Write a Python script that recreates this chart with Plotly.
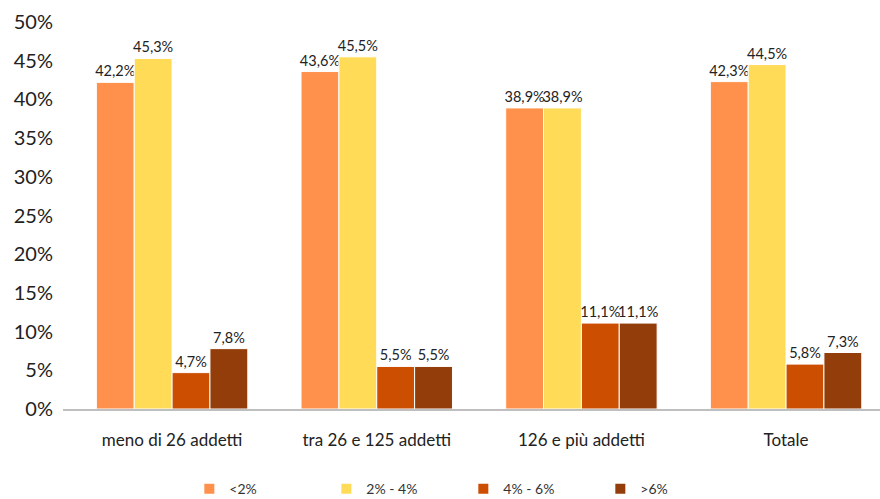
import plotly.graph_objects as go

categories = ["meno di 26 addetti", "tra 26 e 125 addetti", "126 e più addetti", "Totale"]
series_names = ["<2%", "2% - 4%", "4% - 6%", ">6%"]
v_lt2 = [42.2, 43.6, 38.9, 42.3]
v_2_4 = [45.3, 45.5, 38.9, 44.5]
v_4_6 = [4.7, 5.5, 11.1, 5.8]
v_gt6 = [7.8, 5.5, 11.1, 7.3]
y_ticks = [0, 5, 10, 15, 20, 25, 30, 35, 40, 45, 50]
y_ticktext = [f"{t}%" for t in y_ticks]

colors = ["#FF914D", "#FFDB58", "#CC4E00", "#933D0B"]
FONT = "Lato, 'Open Sans', sans-serif"

fig = go.Figure()
for name, vals, col in zip(series_names, [v_lt2, v_2_4, v_4_6, v_gt6], colors):
    fig.add_trace(go.Bar(
        x=categories, y=vals, name=name,
        marker=dict(color=col, line=dict(color="white", width=1)),
        texttemplate="%{y:.1f}%", textposition="outside",
        textfont=dict(size=14.5, color="#222222", family=FONT),
        constraintext="none",
        cliponaxis=False,
    ))

fig.update_layout(
    width=880, height=499,
    margin=dict(l=63, r=0, t=22, b=90, autoexpand=False),
    paper_bgcolor="white", plot_bgcolor="white",
    separators=",.",
    barmode="group", bargap=0.26, bargroupgap=0,
    font=dict(family=FONT, color="#222222"),
    showlegend=True,
    legend=dict(orientation="h", x=0.49, xanchor="center", y=-0.207, yanchor="middle",
                font=dict(size=14, color="#333333"), entrywidth=92, entrywidthmode="pixels",
                itemsizing="constant", traceorder="normal"),
    xaxis=dict(range=[-0.533, 3.459], showgrid=False, showline=True, linecolor="#BFBFBF",
               linewidth=2, ticks="", tickfont=dict(size=17, color="#222222"),
               ticklabelstandoff=15, automargin=False),
    yaxis=dict(range=[0, 50], tickvals=y_ticks, ticktext=y_ticktext, showgrid=False,
               zeroline=False, showline=False, ticks="",
               tickfont=dict(size=20, color="#222222"), ticklabelstandoff=9,
               automargin=False),
)

fig.write_html("out.html", config={"displayModeBar": False},
               post_script="document.body.style.margin='0';")
